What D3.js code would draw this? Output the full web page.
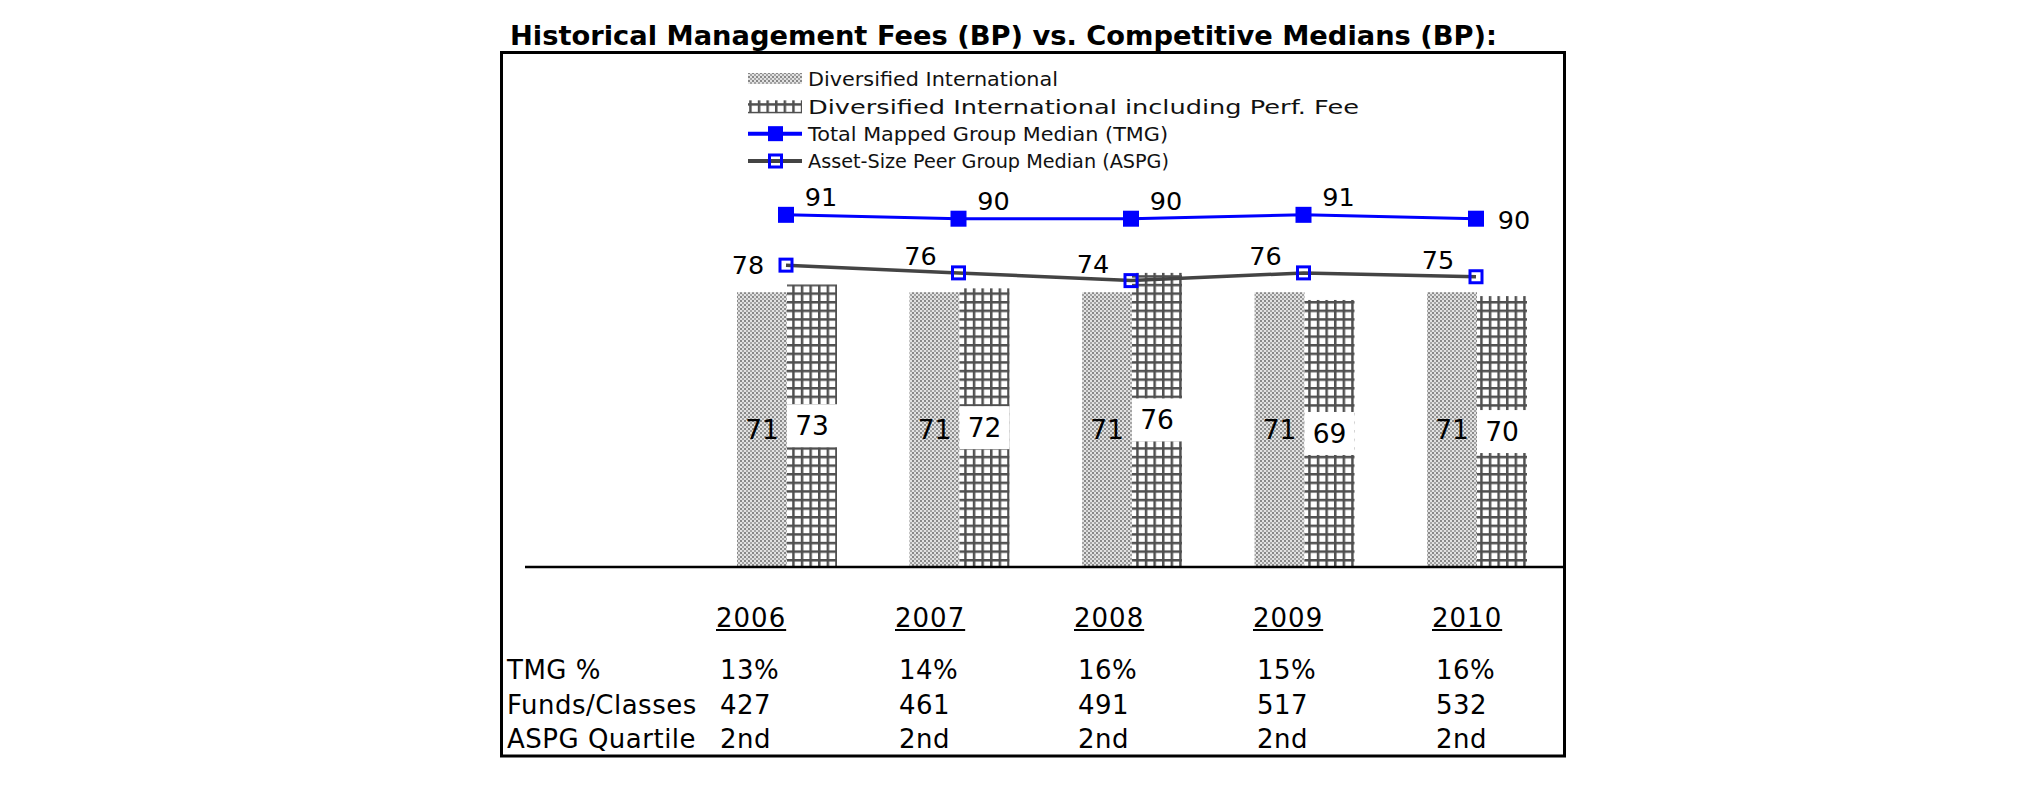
<!DOCTYPE html>
<html><head><meta charset="utf-8">
<script src="https://cdn.jsdelivr.net/npm/d3@7"></script>
<style>body{margin:0;background:#fff}</style>
</head><body><svg id="c" width="2025" height="806"></svg>
<script>
const years = ["2006","2007","2008","2009","2010"];
const diversified = [71,71,71,71,71];
const diversifiedPerf = [73,72,76,69,70];
const tmgMedian = [91,90,90,91,90];
const aspgMedian = [78,76,74,76,75];
const tmgPct = ["13%","14%","16%","15%","16%"];
const fundsClasses = ["427","461","491","517","532"];
const aspgQuartile = ["2nd","2nd","2nd","2nd","2nd"];
const rowLabels = ["TMG %","Funds/Classes","ASPG Quartile"];
const seriesNames = ["Diversified International","Diversified International including Perf. Fee","Total Mapped Group Median (TMG)","Asset-Size Peer Group Median (ASPG)"];
const titleText = "Historical Management Fees (BP) vs. Competitive Medians (BP):";

const svg = d3.select("#c");
const FONT = "'DejaVu Sans', Verdana, sans-serif";

// patterns
const defs = svg.append("defs");
const pd = defs.append("pattern").attr("id","dots").attr("patternUnits","userSpaceOnUse")
  .attr("width",4).attr("height",4);
pd.append("rect").attr("width",4).attr("height",4).attr("fill","#e2e2e2");
pd.append("rect").attr("x",0).attr("y",0).attr("width",2).attr("height",2).attr("fill","#888");
pd.append("rect").attr("x",2).attr("y",2).attr("width",2).attr("height",2).attr("fill","#a4a4a4");
const pg = defs.append("pattern").attr("id","grid").attr("patternUnits","userSpaceOnUse")
  .attr("width",8.6).attr("height",8.6).attr("x",1);
pg.append("rect").attr("width",8.6).attr("height",8.6).attr("fill","#fff");
pg.append("rect").attr("width",8.6).attr("height",2.5).attr("fill","#505050");
pg.append("rect").attr("width",2.5).attr("height",8.6).attr("fill","#505050");

// title
svg.append("text").attr("x",510).attr("y",45)
  .attr("font-family",FONT).attr("font-weight","bold").attr("font-size",27)
  .attr("textLength",987).attr("lengthAdjust","spacingAndGlyphs")
  .text(titleText);

// frame
svg.append("rect").attr("x",501.5).attr("y",52.5).attr("width",1063).attr("height",703.5)
  .attr("fill","none").attr("stroke","#000").attr("stroke-width",3);

// scales
const x = d3.scalePoint().domain(years).range([786,1476]);
const xs = d3.scaleBand().domain([0,1]).range([-49,51]);
const y = d3.scaleLinear().domain([0,100]).range([567,180]);

// bars
const barSeries = [diversified, diversifiedPerf];
const fills = ["url(#dots)","url(#grid)"];
barSeries.forEach((vals, s) => {
  svg.append("g").selectAll("rect").data(vals).join("rect")
    .attr("x",(d,i)=>x(years[i])+xs(s))
    .attr("width",xs.bandwidth())
    .attr("y",d=>y(d))
    .attr("height",d=>y(0)-y(d))
    .attr("fill",fills[s]);
});
// bar labels
const lblG = svg.append("g").attr("font-family",FONT).attr("font-size",26.5).attr("text-anchor","middle");
diversifiedPerf.forEach((d,i)=>{
  const cx = x(years[i])+xs(1)+xs.bandwidth()/2;
  const cy = (y(d)+y(0))/2;
  lblG.append("rect").attr("x",x(years[i])+xs(1)).attr("width",xs.bandwidth())
    .attr("y",cy-21.5).attr("height",43).attr("fill","#fff");
  lblG.append("text").attr("x",cx).attr("y",cy).attr("dy","0.36em").text(d);
});
diversified.forEach((d,i)=>{
  const cx = x(years[i])+xs(0)+xs.bandwidth()/2;
  const cy = (y(d)+y(0))/2;
  lblG.append("text").attr("x",cx).attr("y",cy).attr("dy","0.36em").text(d);
});

// baseline
svg.append("line").attr("x1",525).attr("x2",1563).attr("y1",y(0)).attr("y2",y(0))
  .attr("stroke","#000").attr("stroke-width",2.5);

// lines
const line = d3.line().x((d,i)=>x(years[i])).y(d=>y(d));
svg.append("path").datum(aspgMedian).attr("d",line).attr("fill","none")
  .attr("stroke","#444").attr("stroke-width",3.5);
svg.append("path").datum(tmgMedian).attr("d",line).attr("fill","none")
  .attr("stroke","#0000ff").attr("stroke-width",3);
svg.append("g").selectAll("rect").data(tmgMedian).join("rect")
  .attr("x",(d,i)=>x(years[i])-8).attr("y",d=>y(d)-8).attr("width",16).attr("height",16)
  .attr("fill","#0000ff");
svg.append("g").selectAll("rect").data(aspgMedian).join("rect")
  .attr("x",(d,i)=>x(years[i])-6).attr("y",d=>y(d)-6).attr("width",12).attr("height",12)
  .attr("fill","none").attr("stroke","#0000ff").attr("stroke-width",3);

// line labels
const ll = svg.append("g").attr("font-family",FONT).attr("font-size",25.5).attr("text-anchor","middle");
tmgMedian.forEach((d,i)=>{
  const last = i===tmgMedian.length-1;
  ll.append("text").attr("x",x(years[i])+(last?38:35)).attr("y",y(d)+(last?1:-18))
    .attr("dy","0.36em").text(d);
});
aspgMedian.forEach((d,i)=>{
  const first = i===0;
  ll.append("text").attr("x",x(years[i])-38).attr("y",y(d)+(first?0:-17))
    .attr("dy","0.36em").text(d);
});

// legend
const lg = svg.append("g").attr("font-family",FONT).attr("font-size",20).attr("fill","#111");
const ly = d3.scalePoint().domain(seriesNames).range([79,161]);
lg.append("rect").attr("x",748).attr("width",54).attr("y",ly(seriesNames[0])-6).attr("height",11).attr("fill","url(#dots)");
lg.append("rect").attr("x",748).attr("width",54).attr("y",ly(seriesNames[1])-6).attr("height",13).attr("fill","url(#grid)");
lg.append("line").attr("x1",748).attr("x2",802).attr("y1",ly(seriesNames[2])).attr("y2",ly(seriesNames[2]))
  .attr("stroke","#0000ff").attr("stroke-width",4);
lg.append("rect").attr("x",768).attr("y",ly(seriesNames[2])-7.5).attr("width",15).attr("height",15).attr("fill","#0000ff");
lg.append("line").attr("x1",748).attr("x2",802).attr("y1",ly(seriesNames[3])).attr("y2",ly(seriesNames[3]))
  .attr("stroke","#444").attr("stroke-width",4);
lg.append("rect").attr("x",769.5).attr("y",ly(seriesNames[3])-6).attr("width",12).attr("height",12)
  .attr("fill","none").attr("stroke","#0000ff").attr("stroke-width",3);
const legendWidths = [250,551,360,361];
seriesNames.forEach((n,i)=>{
  lg.append("text").attr("x",808).attr("y",ly(n)).attr("dy","0.36em")
    .attr("textLength",legendWidths[i]).attr("lengthAdjust","spacingAndGlyphs").text(n);
});

// table
const tx = d3.scalePoint().domain(years).range([716,1432]);
const tg = svg.append("g").attr("font-family",FONT).attr("font-size",26);
years.forEach(yr=>{
  const t = tg.append("text").attr("x",tx(yr)).attr("y",627).attr("letter-spacing",1).text(yr);
  const w = t.node().getComputedTextLength();
  tg.append("line").attr("x1",tx(yr)).attr("x2",tx(yr)+w).attr("y1",630).attr("y2",630)
    .attr("stroke","#000").attr("stroke-width",2);
});
const rowY = d3.scalePoint().domain(rowLabels).range([679,748]);
const rows = [tmgPct, fundsClasses, aspgQuartile];
rowLabels.forEach((r,ri)=>{
  tg.append("text").attr("x",507).attr("y",rowY(r)).attr("letter-spacing",0.5).text(r);
  rows[ri].forEach((v,i)=>{
    tg.append("text").attr("x",tx(years[i])+4).attr("y",rowY(r)).attr("letter-spacing",0.5).text(v);
  });
});
</script></body></html>
